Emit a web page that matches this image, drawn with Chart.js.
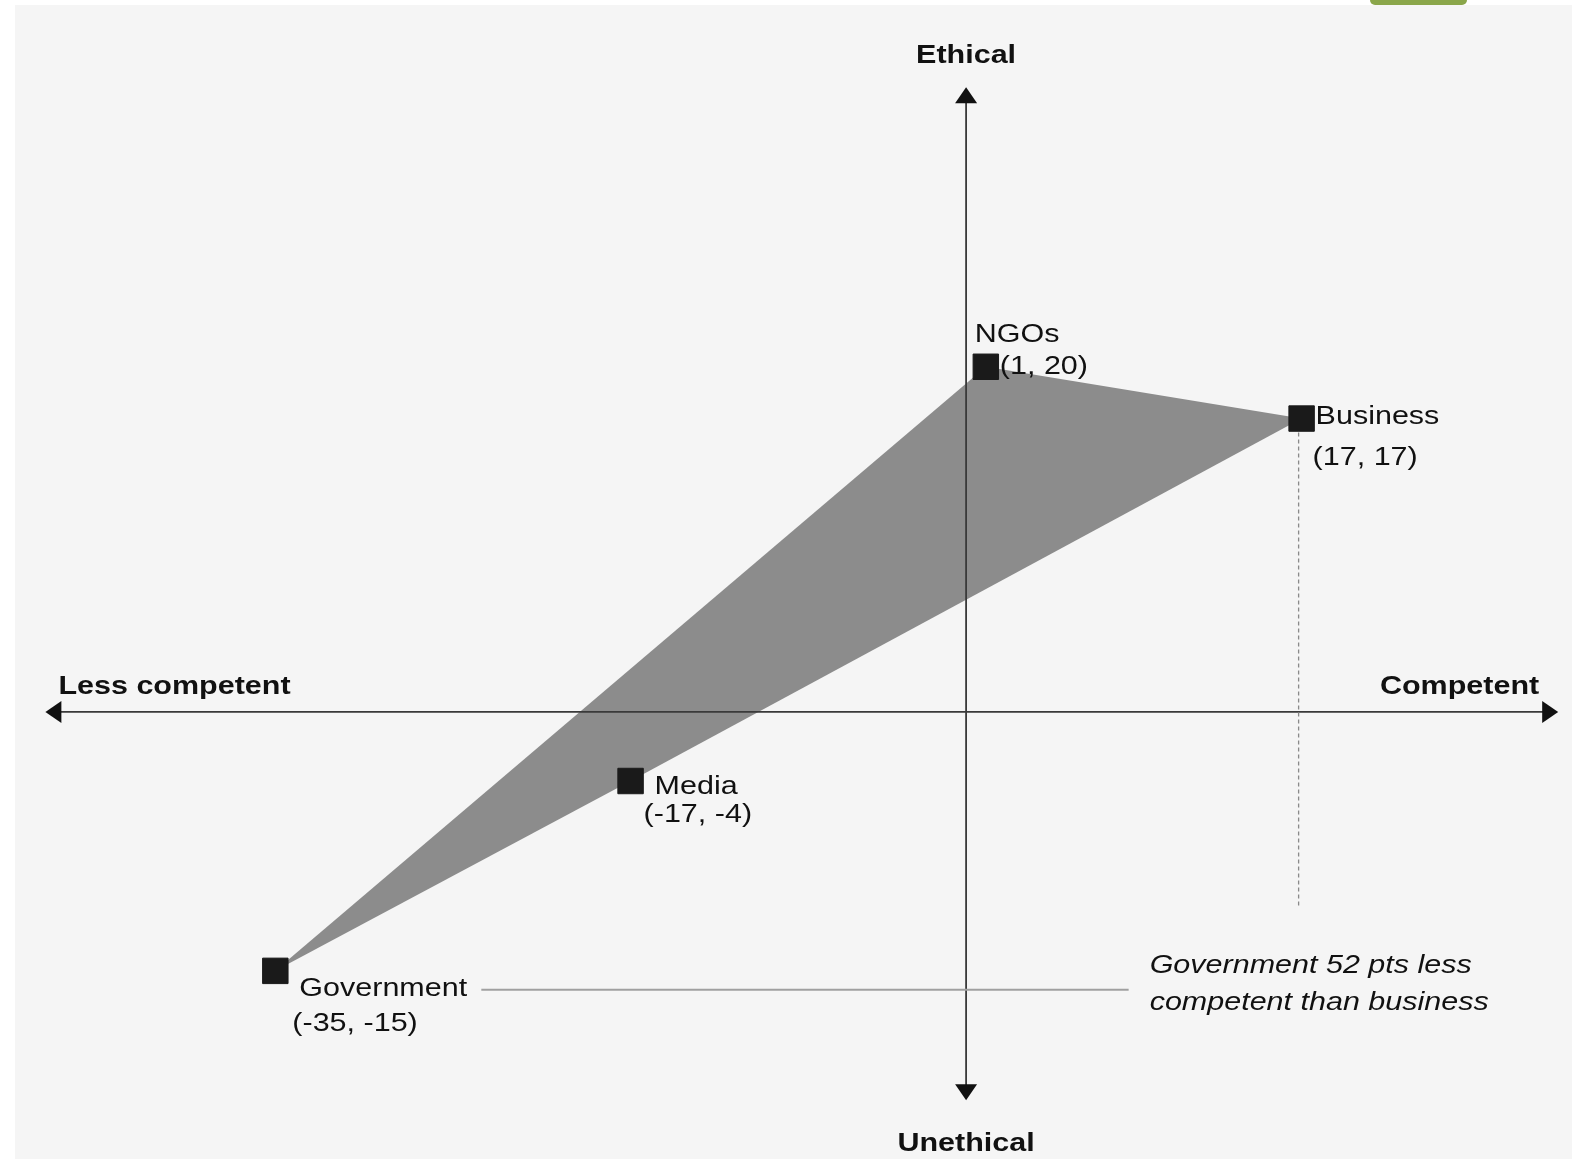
<!DOCTYPE html>
<html>
<head>
<meta charset="utf-8">
<script src="https://cdn.jsdelivr.net/npm/chart.js@4.4.1/dist/chart.umd.min.js"></script>
<style>
html, body { margin: 0; padding: 0; background: #fff; overflow: hidden; }
#panel { position: absolute; left: 15px; top: 5px; width: 1557px; height: 1154px; background: #f5f5f5; }
#tab { position: absolute; left: 1370px; top: 0; width: 97px; height: 5px; background: #8aa64a; border-radius: 0 0 10px 10px; }
#wrap { position: absolute; left: 0; top: 0; width: 1572px; height: 1159px; }
</style>
</head>
<body>
<div id="panel"></div>
<div id="tab"></div>
<div id="wrap"><canvas id="chart"></canvas></div>
<script>
// values
const groups = ['Government', 'Media', 'NGOs', 'Business']
const competence = [-35, -17, 1, 17]
const ethics = [-15, -4, 20, 17]
const shapeOrder = ['Government', 'NGOs', 'Business', 'Media']

const axisTitles = ['Less competent', 'Competent', 'Ethical', 'Unethical']
const xRange = [-48.95, 30.7]
const yRange = [-25.9, 41.25]
const xAxisSpan = [-46.65, 30.0]
const yAxisSpan = [-22.5, 36.2]
const noteLines = ['Government 52 pts less', 'competent than business']

// placement of the annotations (pixels / data units), kept apart from the data
const notePos = { x: 9.3, y: -15.12, lineGap: 37 }
const dashBottom = -11.3
const labelOffsets = {
    NGOs: [[-11, -25], [14, 7]],
    Business: [[14, 5], [11, 46]],
    Media: [[24, 13], [13, 41]],
    Government: [[24, 25], [17, 60]]
}

const FONT = "'Liberation Sans', Arial, sans-serif"
const STRETCH = 1.22

function pointOf(name) {
    const i = groups.indexOf(name)
    return { x: competence[i], y: ethics[i] }
}

function drawText(ctx, text, x, y, font, align) {
    ctx.save()
    ctx.font = font
    ctx.textAlign = align
    ctx.textBaseline = 'alphabetic'
    ctx.fillStyle = '#111'
    ctx.translate(x, y)
    ctx.scale(STRETCH, 1)
    ctx.fillText(text, 0, 0)
    ctx.restore()
}

function arrow(ctx, x, y, dir) {
    const len = 16, half = 11
    ctx.beginPath()
    if (dir === 'left') { ctx.moveTo(x, y); ctx.lineTo(x + len, y - half); ctx.lineTo(x + len, y + half) }
    if (dir === 'right') { ctx.moveTo(x, y); ctx.lineTo(x - len, y - half); ctx.lineTo(x - len, y + half) }
    if (dir === 'up') { ctx.moveTo(x, y); ctx.lineTo(x - half, y + len); ctx.lineTo(x + half, y + len) }
    if (dir === 'down') { ctx.moveTo(x, y); ctx.lineTo(x - half, y - len); ctx.lineTo(x + half, y - len) }
    ctx.closePath()
    ctx.fill()
}

const overlay = {
    id: 'overlay',
    afterDatasetsDraw(chart) {
        const ctx = chart.ctx
        const xs = chart.scales.x, ys = chart.scales.y
        const x0 = xs.getPixelForValue(0), y0 = ys.getPixelForValue(0)
        const xl = xs.getPixelForValue(xAxisSpan[0]), xr = xs.getPixelForValue(xAxisSpan[1])
        const yt = ys.getPixelForValue(yAxisSpan[1]), yb = ys.getPixelForValue(yAxisSpan[0])

        // axes
        ctx.save()
        ctx.strokeStyle = '#3a3a3a'
        ctx.fillStyle = '#111'
        ctx.lineWidth = 1.8
        ctx.beginPath()
        ctx.moveTo(xl + 4, y0); ctx.lineTo(xr - 4, y0)
        ctx.moveTo(x0, yt + 4); ctx.lineTo(x0, yb - 4)
        ctx.stroke()
        arrow(ctx, xl, y0, 'left')
        arrow(ctx, xr, y0, 'right')
        arrow(ctx, x0, yt, 'up')
        arrow(ctx, x0, yb, 'down')
        ctx.restore()

        drawText(ctx, axisTitles[0], xl + 13, y0 - 18, 'bold 25px ' + FONT, 'left')
        drawText(ctx, axisTitles[1], xr - 19, y0 - 18, 'bold 25px ' + FONT, 'right')
        drawText(ctx, axisTitles[2], x0, yt - 24, 'bold 25px ' + FONT, 'center')
        drawText(ctx, axisTitles[3], x0, yb + 51, 'bold 25px ' + FONT, 'center')

        // dashed drop line under Business
        const biz = pointOf('Business')
        const bx = xs.getPixelForValue(biz.x) - 3, by = ys.getPixelForValue(biz.y)
        ctx.save()
        ctx.strokeStyle = '#8a8a8a'
        ctx.lineWidth = 1.3
        ctx.setLineDash([4, 3])
        ctx.beginPath()
        ctx.moveTo(bx, by + 14)
        ctx.lineTo(bx, ys.getPixelForValue(dashBottom))
        ctx.stroke()
        ctx.restore()

        // note and connector from Government
        const nx = xs.getPixelForValue(notePos.x), ny = ys.getPixelForValue(notePos.y)
        noteLines.forEach((t, i) => drawText(ctx, t, nx, ny + i * notePos.lineGap, 'italic 25px ' + FONT, 'left'))
        const gov = pointOf('Government')
        const gx = xs.getPixelForValue(gov.x), gy = ys.getPixelForValue(gov.y)
        ctx.save()
        ctx.strokeStyle = '#a0a0a0'
        ctx.lineWidth = 2
        ctx.beginPath()
        ctx.moveTo(gx + 206, gy + 19)
        ctx.lineTo(nx - 21, gy + 19)
        ctx.stroke()
        ctx.restore()

        // point labels
        groups.forEach((g, i) => {
            const px = xs.getPixelForValue(competence[i]), py = ys.getPixelForValue(ethics[i])
            const off = labelOffsets[g]
            drawText(ctx, g, px + off[0][0], py + off[0][1], '25px ' + FONT, 'left')
            drawText(ctx, '(' + competence[i] + ', ' + ethics[i] + ')', px + off[1][0], py + off[1][1], '25px ' + FONT, 'left')
        })
    }
}

const ctx = document.getElementById('chart').getContext('2d')

const chart = new Chart(ctx, {
    type: 'scatter',
    data: {
        datasets: [{
            label: 'Groups',
            data: groups.map(pointOf),
            pointStyle: 'rect',
            pointRadius: 18,
            pointBackgroundColor: '#1a1a1a',
            pointBorderColor: '#1a1a1a',
            pointBorderWidth: 1,
            showLine: false,
            clip: false,
            order: 0
        }, {
            label: 'Shape',
            data: shapeOrder.map(pointOf),
            showLine: true,
            fill: 'shape',
            backgroundColor: '#8c8c8c',
            borderWidth: 0,
            borderColor: 'rgba(0,0,0,0)',
            pointRadius: 0,
            tension: 0,
            clip: false,
            order: 1
        }]
    },
    options: {
        responsive: true,
        maintainAspectRatio: false,
        animation: false,
        layout: { padding: 0, autoPadding: false },
        plugins: {
            legend: { display: false },
            tooltip: { enabled: false }
        },
        scales: {
            x: { type: 'linear', display: false, min: xRange[0], max: xRange[1] },
            y: { type: 'linear', display: false, min: yRange[0], max: yRange[1] }
        }
    },
    plugins: [overlay]
})
</script>
</body>
</html>
